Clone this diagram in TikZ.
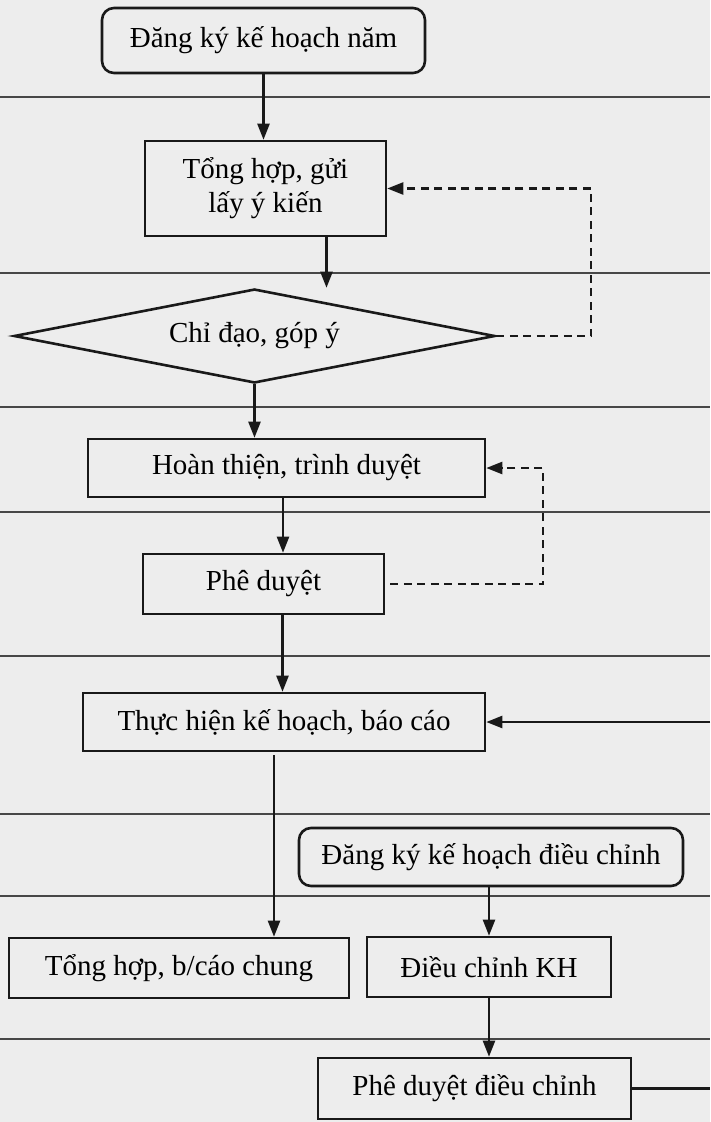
\documentclass[tikz,border=0pt]{standalone}
\usepackage{fontspec}
\setmainfont{Liberation Serif}
\usetikzlibrary{arrows.meta,calc,shapes.geometric}

\begin{document}
\begin{tikzpicture}[x=1pt, y=-1pt,
    box/.style={draw=black!90, line width=2.6pt, inner sep=0pt, align=center,
        font=\fontsize{29}{34}\selectfont},
    rbox/.style={box, rounded corners=12pt},
    flow/.style={draw=black!90, line width=2.3pt, -{Triangle[length=16pt,width=12pt]}},
    fb/.style={flow, dash pattern=on 8pt off 5.5pt}]

    % the paper and the lanes
    \fill[black!7] (0,0) rectangle (710,1122);
    \useasboundingbox (0,0) rectangle (710,1122);
    \foreach \y in {97,273,407,512,656,814,896,1039}
        \draw[black!72, line width=2pt] (0,\y) -- (710,\y);

    % the steps of the yearly plan
    \node[rbox, minimum width=323pt, minimum height=65pt] (dangky) at (263.5,40.5) {Đăng ký kế hoạch năm};
    \node[box, minimum width=241pt, minimum height=95pt] (tonghop) at (265.5,188.5) {Tổng hợp, gửi\\lấy ý kiến};
    \node[box, diamond, aspect=5, minimum width=481pt, minimum height=94pt] (chidao) at (254.5,336) {Chỉ đạo, góp ý};
    \node[box, minimum width=397pt, minimum height=58pt] (hoanthien) at (286.5,468) {Hoàn thiện, trình duyệt};
    \node[box, minimum width=241pt, minimum height=60pt] (pheduyet) at (263.5,584) {Phê duyệt};
    \node[box, minimum width=402pt, minimum height=58pt] (thuchien) at (284,722) {Thực hiện kế hoạch, báo cáo};

    % the steps of the adjustment
    \node[rbox, minimum width=384pt, minimum height=58pt] (dangkydc) at (491,857) {Đăng ký kế hoạch điều chỉnh};
    \node[box, minimum width=340pt, minimum height=60pt] (tonghopbc) at (179,968) {Tổng hợp, b/cáo chung};
    \node[box, minimum width=244pt, minimum height=60pt] (dieuchinh) at (489,967) {Điều chỉnh KH};
    \node[box, minimum width=313pt, minimum height=61pt] (pheduyetdc) at (474.5,1088.5) {Phê duyệt điều chỉnh};

    % free ends at the right border
    \coordinate (edge1) at (710,722);
    \coordinate (edge2) at (710,1088.5);

    % draw the arrows
    \draw[flow] (dangky.south) -- (dangky.south |- tonghop.north);
    \draw[flow] ([xshift=61pt]tonghop.south) -- ([xshift=61pt]tonghop.south |- chidao.north);
    \draw[fb] (chidao.east) -- ++(95,0) |- (tonghop.east);
    \draw[flow] (chidao.south) -- (chidao.south |- hoanthien.north);
    \draw[flow] ([xshift=-3.5pt]hoanthien.south) -- ([xshift=-3.5pt]hoanthien.south |- pheduyet.north);
    \draw[fb] ([xshift=5pt]pheduyet.east) -- ++(153,0) |- (hoanthien.east);
    \draw[flow] ([xshift=19pt]pheduyet.south) -- ([xshift=19pt]pheduyet.south |- thuchien.north);
    \draw[flow] (edge1) -- (thuchien.east);
    \draw[flow] ([xshift=-10pt,yshift=-3pt]thuchien.south) -- ([xshift=-10pt]thuchien.south |- tonghopbc.north);
    \draw[flow] (dieuchinh.north |- dangkydc.south) -- (dieuchinh.north);
    \draw[flow] (dieuchinh.south) -- (dieuchinh.south |- pheduyetdc.north);
    \draw[draw=black!90, line width=2.3pt] (pheduyetdc.east) -- (edge2);
\end{tikzpicture}
\end{document}
